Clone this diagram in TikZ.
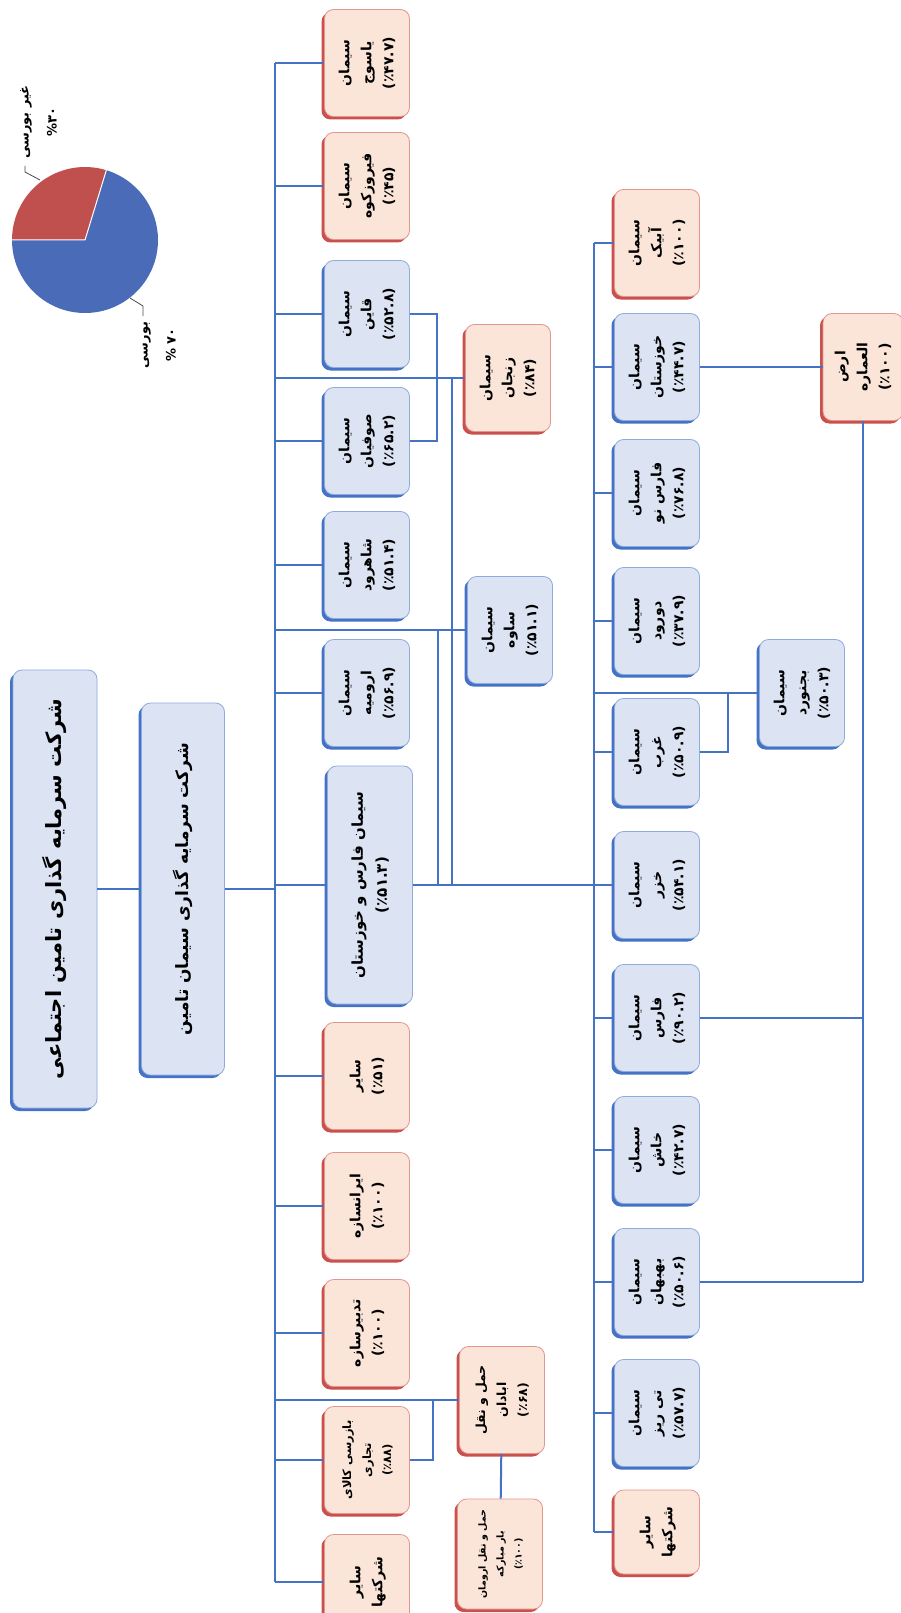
\documentclass[tikz,border=0pt]{standalone}
\usepackage{fontspec}
\usepackage{graphicx}
\usetikzlibrary{shadows}
\newfontfamily\fafont[Script=Arabic]{DejaVu Sans}
\TeXXeTstate=1
\definecolor{lnblue}{HTML}{4472C4}
\definecolor{bxblue}{HTML}{DCE4F4}
\definecolor{bdblue}{HTML}{8FAADC}
\definecolor{bxred}{HTML}{FAE5D8}
\definecolor{bdred}{HTML}{E39590}
\definecolor{shred}{HTML}{C9504C}
\definecolor{pieblue}{HTML}{4A6CB8}
\definecolor{piered}{HTML}{C0504D}
\newcommand\fa[1]{\beginR#1\endR}
\newcommand\vlab[1]{\rotatebox{90}{\begin{tabular}{@{}c@{}}#1\end{tabular}}}

\begin{document}
\begin{tikzpicture}[x=1pt,y=-1pt,
    link/.style={draw=lnblue,line width=2pt},
    box/.style={rectangle,rounded corners=9pt,line width=0.8pt,inner sep=1pt,
        minimum width=85pt,minimum height=107pt,
        font=\fafont\bfseries\fontsize{14}{22}\selectfont},
    bluebox/.style={box,draw=bdblue,fill=bxblue,
        drop shadow={fill=lnblue,opacity=1,shadow xshift=-3pt,shadow yshift=-3pt}},
    redbox/.style={box,draw=bdred,fill=bxred,
        drop shadow={fill=shred,opacity=1,shadow xshift=-3pt,shadow yshift=-3pt}},
    pielab/.style={font=\fafont\bfseries\fontsize{13}{28}\selectfont,inner sep=0pt},
    leader/.style={draw=black!70,line width=0.8pt}]
    \clip (0,0) rectangle (901,1613);

    % pie
    \coordinate (pc) at (85,240);
    \fill[pieblue] (pc) -- ++(-180:73) arc[start angle=-180,end angle=-433,radius=73] -- cycle;
    \fill[piered] (pc) -- ++(-73:73) arc[start angle=-73,end angle=-180,radius=73] -- cycle;
    \draw[white,line width=1pt] (pc) -- ++(-73:73) (pc) -- ++(-180:73);
    \node[pielab] (nonbourse) at (37,122) {\vlab{\fa{غیر بورسی}\\\%۳۰}};
    \node[pielab] (bourse) at (156,345) {\vlab{\fa{بورسی}\\\% ۷۰}};
    \coordinate (ld1) at (25,166);
    \coordinate (ld2) at (143,316);
    \draw[leader] (ld1) -- ++(0,6) -- ++(15,8);
    \draw[leader] (ld2) -- ++(0,-10) -- ++(-13,-8);

    % trunks
    \coordinate (tr) at (275,0);
    \coordinate (tr2) at (594,0);
    \coordinate (v1) at (438,0);
    \coordinate (v2) at (452,0);
    \coordinate (v3) at (728,0);
    \coordinate (v5) at (433,0);
    \coordinate (v6) at (437,0);

    % top
    \node[bluebox,minimum width=84pt,minimum height=438pt,
        font=\fafont\bfseries\fontsize{21}{24}\selectfont] (title) at (55,889)
        {\rotatebox{90}{\fa{شرکت سرمایه گذاری تامین اجتماعی}}};
    \node[bluebox,minimum width=83pt,minimum height=372pt,
        font=\fafont\bfseries\fontsize{17}{20}\selectfont] (sub) at (183,889)
        {\rotatebox{90}{\fa{شرکت سرمایه گذاری سیمان تامین}}};

    % first level
    \node[redbox] (yasuj) at (367,63) {\vlab{\fa{سیمان}\\\fa{یاسوج}\\\fa{(٪۴۷.۷)}}};
    \node[redbox] (firuzkuh) at (367,186) {\vlab{\fa{سیمان}\\\fa{فیروزکوه}\\\fa{(٪۴۵)}}};
    \node[bluebox] (qaen) at (367,314) {\vlab{\fa{سیمان}\\\fa{قاین}\\\fa{(٪۵۲.۸)}}};
    \node[bluebox] (sufian) at (367,441) {\vlab{\fa{سیمان}\\\fa{صوفیان}\\\fa{(٪۶۵.۲)}}};
    \node[bluebox] (shahrud) at (367,565) {\vlab{\fa{سیمان}\\\fa{شاهرود}\\\fa{(٪۵۱.۴)}}};
    \node[bluebox] (urmia) at (367,693) {\vlab{\fa{سیمان}\\\fa{ارومیه}\\\fa{(٪۵۶.۹)}}};
    \node[bluebox,minimum height=238pt,font=\fafont\bfseries\fontsize{15}{24}\selectfont] (farskh) at (370,885)
        {\vlab{\fa{سیمان فارس و خوزستان}\\\fa{(٪۵۱.۳)}}};
    \node[redbox] (sayer) at (367,1076) {\vlab{\fa{سایر}\\\fa{(٪۵۱)}}};
    \node[redbox] (iransazeh) at (367,1206) {\vlab{\fa{ایرانسازه}\\\fa{(٪۱۰۰)}}};
    \node[redbox] (tadbir) at (367,1333) {\vlab{\fa{تدبیرسازه}\\\fa{(٪۱۰۰)}}};
    \node[redbox,font=\fafont\bfseries\fontsize{11.5}{20}\selectfont] (bazrasi) at (367,1460)
        {\vlab{\fa{بازرسی کالای}\\\fa{تجاری}\\\fa{(٪۸۸)}}};
    \node[redbox,minimum height=95pt] (sayerl) at (367,1582) {\vlab{\fa{سایر}\\\fa{شرکتها}}};

    % second level
    \node[redbox] (zanjan) at (508,378) {\vlab{\fa{سیمان}\\\fa{زنجان}\\\fa{(٪۸۴)}}};
    \node[bluebox] (savah) at (510,630) {\vlab{\fa{سیمان}\\\fa{ساوه}\\\fa{(٪۵۱.۱)}}};
    \node[redbox,font=\fafont\bfseries\fontsize{12.5}{21}\selectfont] (haml) at (502,1400)
        {\vlab{\fa{حمل و نقل}\\\fa{ابادان}\\\fa{(٪۶۸)}}};
    \node[redbox,font=\fafont\bfseries\fontsize{9.5}{18}\selectfont,minimum height=110pt] (haml2) at (500,1554)
        {\vlab{\fa{حمل و نقل ارومان}\\\fa{بار مبارکه}\\\fa{(٪۱۰۰)}}};

    % fars and khuzestan group
    \node[redbox] (abyek) at (657,243) {\vlab{\fa{سیمان}\\\fa{آبیک}\\\fa{(٪۱۰۰)}}};
    \node[bluebox] (khuz) at (657,367) {\vlab{\fa{سیمان}\\\fa{خوزستان}\\\fa{(٪۴۴.۷)}}};
    \node[bluebox] (farsnow) at (657,493) {\vlab{\fa{سیمان}\\\fa{فارس نو}\\\fa{(٪۷۶.۸)}}};
    \node[bluebox] (dorud) at (657,621) {\vlab{\fa{سیمان}\\\fa{دورود}\\\fa{(٪۳۷.۹)}}};
    \node[bluebox] (gharb) at (657,752) {\vlab{\fa{سیمان}\\\fa{غرب}\\\fa{(٪۵۰.۹)}}};
    \node[bluebox] (khazar) at (657,885) {\vlab{\fa{سیمان}\\\fa{خزر}\\\fa{(٪۵۴.۱)}}};
    \node[bluebox] (fars) at (657,1018) {\vlab{\fa{سیمان}\\\fa{فارس}\\\fa{(٪۹۰.۲)}}};
    \node[bluebox] (khash) at (657,1150) {\vlab{\fa{سیمان}\\\fa{خاش}\\\fa{(٪۴۲.۷)}}};
    \node[bluebox] (behbahan) at (657,1282) {\vlab{\fa{سیمان}\\\fa{بهبهان}\\\fa{(٪۵۰.۶)}}};
    \node[bluebox] (tiriz) at (657,1413) {\vlab{\fa{سیمان}\\\fa{تی ریز}\\\fa{(٪۵۷.۷)}}};
    \node[redbox,minimum height=84pt] (sayerr) at (657,1532) {\vlab{\fa{سایر}\\\fa{شرکتها}}};
    \node[bluebox] (bojnurd) at (802,693) {\vlab{\fa{سیمان}\\\fa{بجنورد}\\\fa{(٪۵۰.۳)}}};
    \node[redbox,minimum width=80pt] (arz) at (863,367) {\vlab{\fa{ارض}\\\fa{العماره}\\\fa{(٪۱۰۰)}}};

    % links
    \draw[link] (title) -- (sub);
    \draw[link] (sub) -- (tr |- sub);
    \draw[link] (tr |- yasuj) -- (tr |- sayerl);
    \foreach \b in {yasuj,firuzkuh,qaen,sufian,shahrud,urmia,farskh,sayer,iransazeh,tadbir,bazrasi,sayerl,zanjan,savah,haml}
        \draw[link] (tr |- \b) -- (\b);
    \draw[link] (qaen) -- (v6 |- qaen) -- (v6 |- sufian) -- (sufian);
    \draw[link] (v1 |- savah) -- (v1 |- farskh);
    \draw[link] (v2 |- zanjan) -- (v2 |- farskh);
    \draw[link] (farskh) -- (tr2 |- farskh);
    \draw[link] (bazrasi) -- (v5 |- bazrasi) -- (v5 |- haml);
    \draw[link] (haml) -- (haml2);
    \draw[link] (tr2 |- abyek) -- (tr2 |- sayerr);
    \foreach \b in {abyek,khuz,farsnow,dorud,gharb,khazar,fars,khash,behbahan,tiriz,sayerr,bojnurd}
        \draw[link] (tr2 |- \b) -- (\b);
    \draw[link] (gharb) -- (v3 |- gharb) -- (v3 |- bojnurd);
    \draw[link] (khuz) -- (arz);
    \draw[link] (arz.south) -- (arz.south |- behbahan);
    \draw[link] (fars) -- (arz.south |- fars);
    \draw[link] (behbahan) -- (arz.south |- behbahan);
\end{tikzpicture}
\end{document}
